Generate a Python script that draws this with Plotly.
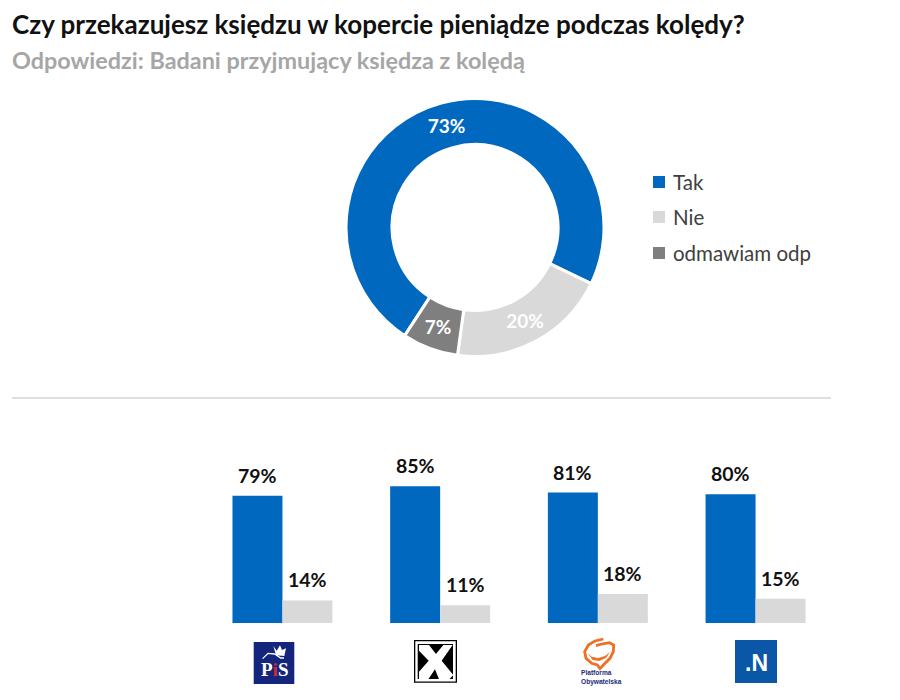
import plotly.graph_objects as go

# Data
pie_labels = ["Tak", "Nie", "odmawiam odp"]
pie_values = [73, 20, 7]
pie_colors = ["#0069bf", "#d9d9d9", "#7f7f7f"]
parties = ["PiS", "Kukiz'15", "Platforma Obywatelska", "Nowoczesna"]
tak_values = [79, 85, 81, 80]
nie_values = [14, 11, 18, 15]
title_text = "Czy przekazujesz księdzu w kopercie pieniądze podczas kolędy?"
subtitle_text = "Odpowiedzi: Badani przyjmujący księdza z kolędą"

W, H = 900, 700
FONT = "Lato"
def fx(x): return x / W
def fy(y): return 1 - y / H
def path(points, close=True):
    return "M " + " L ".join(f"{fx(x):.5f},{fy(y):.5f}" for x, y in points) + (" Z" if close else "")

fig = go.Figure()
fig.add_trace(go.Pie(
    labels=pie_labels, values=pie_values, sort=False, direction="clockwise", rotation=213,
    hole=0.643, marker=dict(colors=pie_colors, line=dict(color="white", width=3)),
    texttemplate="%{percent:.0%}", textposition="inside", insidetextorientation="horizontal",
    textfont=dict(family=FONT, size=19, color="white", weight="bold"),
    domain=dict(x=[fx(475-129), fx(475+129)], y=[fy(227.5+129), fy(227.5-129)]),
    showlegend=False, name="Ogółem",
))
for name, vals, col in (("Tak", tak_values, pie_colors[0]), ("Nie", nie_values, pie_colors[1])):
    fig.add_trace(go.Bar(x=parties, y=vals, name=name, marker=dict(color=col, line=dict(width=0)),
                         cliponaxis=False, showlegend=False))

shapes = [dict(type="line", xref="paper", yref="paper", x0=fx(12), x1=fx(831), y0=fy(398), y1=fy(398),
               line=dict(color="#bfbfbf", width=1.2))]
annotations = [dict(text=subtitle_text, x=fx(10), y=fy(60.5), xref="paper", yref="paper", xanchor="left",
                    yanchor="middle", showarrow=False, font=dict(family=FONT, size=23.4, color="#a6a6a6", weight="bold"))]

# bar value labels, anchored to the data
for vals, shift in ((tak_values, -25), (nie_values, 25)):
    for party, v in zip(parties, vals):
        annotations.append(dict(text=f"{v}%", x=party, y=v, xref="x", yref="y", xanchor="center", yanchor="bottom",
                                xshift=shift, yshift=7, showarrow=False,
                                font=dict(family=FONT, size=19.5, color="#111111", weight="bold")))

# manual legend
for lab, col, yc in zip(pie_labels, pie_colors, (182, 217, 253)):
    shapes.append(dict(type="rect", xref="paper", yref="paper", x0=fx(653), x1=fx(665), y0=fy(yc+6), y1=fy(yc-6),
                       fillcolor=col, line=dict(width=0)))
    annotations.append(dict(text=lab, x=fx(671), y=fy(yc), xref="paper", yref="paper", xanchor="left", yanchor="middle",
                            showarrow=False, font=dict(family=FONT, size=20.5, color="#404040")))

def rect(x0, y0, x1, y1, col):
    shapes.append(dict(type="rect", xref="paper", yref="paper", x0=fx(x0), x1=fx(x1), y0=fy(y1), y1=fy(y0),
                       fillcolor=col, line=dict(width=0)))
def poly(points, fill=None, line=None, lw=0, close=True):
    shapes.append(dict(type="path", xref="paper", yref="paper", path=path(points, close), fillcolor=fill or "rgba(0,0,0,0)",
                       line=dict(color=line or "rgba(0,0,0,0)", width=lw)))
def logo_text(t, x, y, size, col, family="Liberation Sans", anchor="center"):
    annotations.append(dict(text=t, x=fx(x), y=fy(y), xref="paper", yref="paper", xanchor=anchor, yanchor="middle", align="left",
                            showarrow=False, borderpad=0, font=dict(family=family, size=size, color=col, weight="bold")))
def z4(pts): return [(240 + a / 3, 630 + b / 3) for a, b in pts]
def z5(pts): return [(570 + a / 3, 630 + b / 3) for a, b in pts]

# PiS logo
rect(253.7, 642, 294.3, 684, "#14257d")
logo_text('P<span style="color:#d8262c">i</span>S', 274, 669.5, 19, "white", family="Liberation Serif")
poly(z4([(100, 48), (110, 62), (120, 46), (126, 60), (138, 55), (133, 78), (108, 76)]), fill="white")
poly(z4([(68, 86), (84, 70), (104, 72), (122, 84), (132, 84)]), line="white", lw=1.3, close=False)
# Kukiz logo
rect(414, 640, 457, 682.7, "#000000")
rect(415.3, 641.3, 455.7, 681.4, "#ffffff")
rect(417.7, 644, 453, 679, "#000000")
poly(z4([(537, 45), (567, 45), (588, 72), (610, 45), (638, 45), (605, 92), (640, 135), (628, 148), (597, 148),
         (585, 118), (565, 148), (537, 148), (537, 125), (566, 92), (537, 62)]), fill="white")
# Platforma logo
poly(z5([(100, 27), (75, 33), (55, 45), (44, 65), (48, 85), (65, 100), (82, 105), (90, 116), (103, 102), (120, 85),
         (130, 65), (131, 45), (118, 38), (95, 42), (78, 47)]), line="#ee6f25", lw=2.8, close=False)
poly(z5([(52, 68), (65, 80), (85, 84), (105, 78), (120, 66), (108, 84), (88, 93), (68, 90)]), fill="#ee6f25")
logo_text("Platforma<br>Obywatelska", 580, 677, 6.6, "#1d2a7a", anchor="left")
# .N logo
rect(735, 640, 777, 683, "#0a57a8")
logo_text(".N", 756, 663, 23, "white")

fig.update_layout(
    width=W, height=H, margin=dict(l=0, r=0, t=0, b=0), paper_bgcolor="white", plot_bgcolor="white",
    title=dict(text=title_text, x=fx(12), y=fy(25), xref="paper", yref="paper", xanchor="left", yanchor="middle",
               font=dict(family=FONT, size=26, color="#111111", weight="bold")),
    barmode="group", bargap=0.366, bargroupgap=0,
    xaxis=dict(domain=[fx(203.6), fx(834.4)], range=[-0.5, 3.5], visible=False, type="category", fixedrange=True),
    yaxis=dict(domain=[fy(623), fy(623-161)], range=[0, 100], visible=False, fixedrange=True),
    shapes=shapes, annotations=annotations, showlegend=False,
)
fig.write_html("out.html", post_script="document.body.style.margin='0';", config=dict(displayModeBar=False))
